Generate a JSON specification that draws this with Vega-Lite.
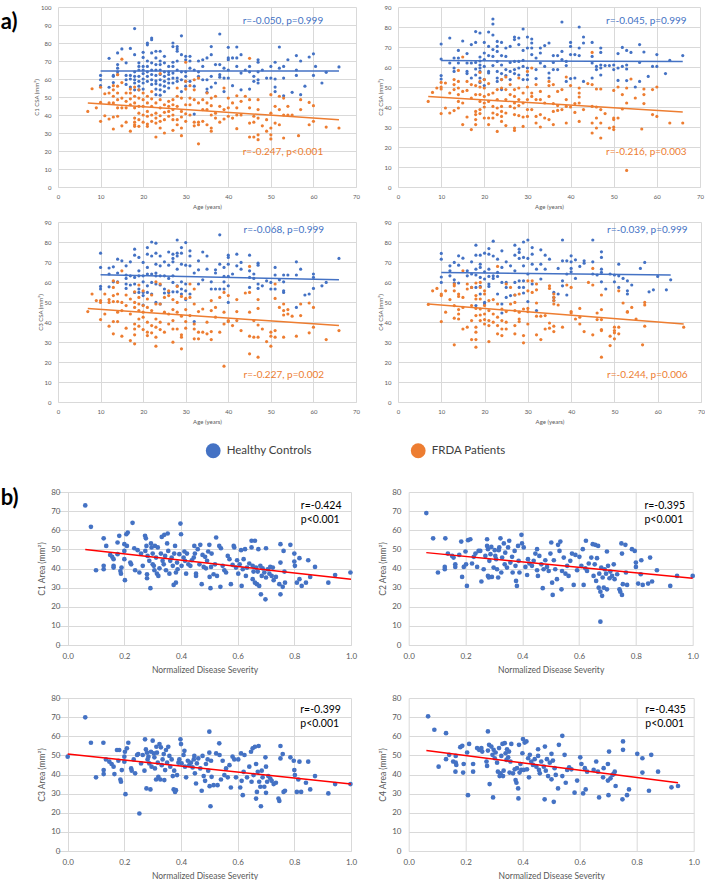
{
"$schema":"https://vega.github.io/schema/vega-lite/v6.json",
"background":"white",
"padding":{"left":0,"top":4,"right":0,"bottom":0},
"datasets":{
"a1h":[{"x":10,"y":62},{"x":10,"y":59.6},{"x":10,"y":56.3},{"x":12,"y":71.5},{"x":12,"y":55.4},{"x":13,"y":62},{"x":13,"y":58},{"x":13,"y":61.5},{"x":14,"y":74.5},{"x":14,"y":68},{"x":14,"y":66},{"x":14,"y":64},{"x":14,"y":62.5},{"x":15,"y":76.7},{"x":16,"y":69},{"x":16,"y":62},{"x":16,"y":59.6},{"x":16,"y":57},{"x":17,"y":77},{"x":17,"y":62},{"x":17,"y":60},{"x":17,"y":55.5},{"x":18,"y":88},{"x":18,"y":73.5},{"x":18,"y":64},{"x":18,"y":61.5},{"x":18,"y":59.6},{"x":18,"y":57.8},{"x":18,"y":54},{"x":19,"y":69},{"x":19,"y":67},{"x":19,"y":65},{"x":19,"y":61.5},{"x":19,"y":58.7},{"x":19,"y":56},{"x":19,"y":54},{"x":20,"y":74.8},{"x":20,"y":72},{"x":20,"y":67},{"x":20,"y":65},{"x":20,"y":63},{"x":20,"y":60},{"x":20,"y":57.8},{"x":20,"y":54.4},{"x":21,"y":80},{"x":21,"y":79},{"x":21,"y":70},{"x":21,"y":67},{"x":21,"y":64},{"x":21,"y":61.5},{"x":21,"y":58.7},{"x":22,"y":82.8},{"x":22,"y":81.8},{"x":22,"y":74.5},{"x":22,"y":69},{"x":22,"y":65},{"x":22,"y":62.5},{"x":22,"y":59.6},{"x":22,"y":57},{"x":23,"y":75.4},{"x":23,"y":71.7},{"x":23,"y":68},{"x":23,"y":65},{"x":23,"y":62},{"x":23,"y":59},{"x":23,"y":57.4},{"x":23,"y":54.4},{"x":23,"y":51.3},{"x":24,"y":75.4},{"x":24,"y":70},{"x":24,"y":68},{"x":24,"y":65},{"x":24,"y":62.5},{"x":24,"y":59.6},{"x":24,"y":56.7},{"x":24,"y":54},{"x":24,"y":51},{"x":25,"y":72.6},{"x":25,"y":69},{"x":25,"y":64},{"x":25,"y":61.5},{"x":25,"y":58.7},{"x":25,"y":56},{"x":25,"y":53},{"x":26,"y":67},{"x":26,"y":64},{"x":26,"y":62.5},{"x":26,"y":60},{"x":26,"y":57.8},{"x":26,"y":55},{"x":27,"y":80},{"x":27,"y":78},{"x":27,"y":69.3},{"x":27,"y":67},{"x":27,"y":63.3},{"x":27,"y":60.5},{"x":27,"y":57.8},{"x":28,"y":78},{"x":28,"y":76.7},{"x":28,"y":75.4},{"x":28,"y":70},{"x":28,"y":65},{"x":28,"y":60.5},{"x":28,"y":58.7},{"x":29,"y":84},{"x":29,"y":73.5},{"x":29,"y":64},{"x":29,"y":59.6},{"x":29,"y":53},{"x":30,"y":72.6},{"x":30,"y":70.7},{"x":30,"y":64},{"x":30,"y":61.5},{"x":30,"y":58.7},{"x":30,"y":56},{"x":31,"y":72.6},{"x":31,"y":70},{"x":31,"y":66},{"x":31,"y":58.7},{"x":32,"y":65},{"x":32,"y":40.5},{"x":32,"y":56},{"x":33,"y":70},{"x":33,"y":64},{"x":33,"y":61.5},{"x":34,"y":70.7},{"x":34,"y":67},{"x":34,"y":59.6},{"x":35,"y":71.7},{"x":35,"y":59.6},{"x":35,"y":54.4},{"x":35,"y":52.6},{"x":36,"y":78},{"x":36,"y":73.5},{"x":36,"y":61.5},{"x":36,"y":55.5},{"x":37,"y":68},{"x":37,"y":57.8},{"x":38,"y":85},{"x":38,"y":68},{"x":38,"y":61},{"x":38,"y":62.4},{"x":39,"y":66},{"x":39,"y":60.5},{"x":39,"y":53},{"x":40,"y":77.6},{"x":40,"y":71.7},{"x":40,"y":70.7},{"x":40,"y":65},{"x":40,"y":60.5},{"x":41,"y":71.7},{"x":41,"y":56.3},{"x":42,"y":77.8},{"x":42,"y":71.7},{"x":42,"y":67},{"x":43,"y":73.5},{"x":43,"y":63.3},{"x":43,"y":54},{"x":44,"y":65},{"x":45,"y":67},{"x":45,"y":64},{"x":45,"y":54.4},{"x":46,"y":61.5},{"x":46,"y":58.7},{"x":47,"y":70.7},{"x":47,"y":69.3},{"x":47,"y":64},{"x":47,"y":59.6},{"x":47,"y":57.8},{"x":48,"y":65},{"x":49,"y":60.5},{"x":50,"y":67},{"x":50,"y":60.5},{"x":51,"y":69.3},{"x":51,"y":55.5},{"x":51,"y":53},{"x":51,"y":60},{"x":52,"y":77.8},{"x":52,"y":66},{"x":53,"y":67},{"x":53,"y":60.5},{"x":53,"y":50.7},{"x":54,"y":70.7},{"x":55,"y":52.6},{"x":56,"y":73},{"x":56,"y":65},{"x":56,"y":62},{"x":57,"y":70},{"x":57,"y":51.3},{"x":58,"y":56},{"x":59,"y":72.2},{"x":60,"y":74},{"x":60,"y":62},{"x":60.5,"y":67},{"x":62,"y":57.8},{"x":63,"y":63.7},{"x":66,"y":66.7}],
"a1f":[{"x":7,"y":42},{"x":8,"y":54.6},{"x":9,"y":44},{"x":10,"y":55.4},{"x":10,"y":47},{"x":10,"y":36.5},{"x":11,"y":51.8},{"x":11,"y":39.6},{"x":12,"y":52.2},{"x":12,"y":46.7},{"x":12,"y":37.8},{"x":13,"y":56.3},{"x":13,"y":54},{"x":13,"y":50.4},{"x":13,"y":46.7},{"x":13,"y":38.9},{"x":13,"y":32.2},{"x":14,"y":62.4},{"x":14,"y":56},{"x":14,"y":52.2},{"x":14,"y":48.5},{"x":14,"y":44},{"x":14,"y":39.3},{"x":15,"y":71},{"x":15,"y":58},{"x":15,"y":49.4},{"x":15,"y":44},{"x":15,"y":34},{"x":16,"y":52.2},{"x":16,"y":47.6},{"x":16,"y":44},{"x":16,"y":36},{"x":17,"y":54.4},{"x":17,"y":52.2},{"x":17,"y":49},{"x":17,"y":45.7},{"x":17,"y":31},{"x":18,"y":55.5},{"x":18,"y":50.4},{"x":18,"y":46.7},{"x":18,"y":44},{"x":18,"y":38.3},{"x":18,"y":36},{"x":18,"y":34.6},{"x":18,"y":33.7},{"x":19,"y":54},{"x":19,"y":49.4},{"x":19,"y":44.8},{"x":19,"y":41},{"x":19,"y":37.4},{"x":19,"y":33.7},{"x":20,"y":52.2},{"x":20,"y":48.5},{"x":20,"y":44.8},{"x":20,"y":40},{"x":20,"y":36},{"x":21,"y":50.4},{"x":21,"y":46.7},{"x":21,"y":42},{"x":21,"y":39.3},{"x":21,"y":35},{"x":21,"y":33.7},{"x":22,"y":53},{"x":22,"y":49},{"x":22,"y":44.8},{"x":22,"y":40},{"x":22,"y":36.5},{"x":23,"y":46.7},{"x":23,"y":41},{"x":23,"y":38.3},{"x":23,"y":35.5},{"x":23,"y":27.8},{"x":24,"y":63},{"x":24,"y":48.5},{"x":24,"y":44},{"x":24,"y":39.6},{"x":24,"y":36.5},{"x":24,"y":32.8},{"x":25,"y":45.7},{"x":25,"y":41.5},{"x":25,"y":37.4},{"x":25,"y":30},{"x":26,"y":47.6},{"x":26,"y":44.8},{"x":26,"y":42},{"x":26,"y":39.3},{"x":27,"y":48.5},{"x":27,"y":45.7},{"x":27,"y":43},{"x":27,"y":40},{"x":27,"y":37.4},{"x":27,"y":31.5},{"x":28,"y":55},{"x":28,"y":50.4},{"x":28,"y":44.8},{"x":28,"y":37.4},{"x":28,"y":34.6},{"x":29,"y":49.4},{"x":29,"y":42},{"x":29,"y":38.9},{"x":29,"y":32.8},{"x":29,"y":28.5},{"x":30,"y":69.3},{"x":30,"y":58.7},{"x":30,"y":54.4},{"x":30,"y":45.7},{"x":30,"y":40.7},{"x":30,"y":36.5},{"x":31,"y":56.3},{"x":31,"y":49.4},{"x":31,"y":45.7},{"x":31,"y":40},{"x":32,"y":59.6},{"x":32,"y":54},{"x":32,"y":48.5},{"x":32,"y":36},{"x":32,"y":34},{"x":33,"y":60.5},{"x":33,"y":46.7},{"x":33,"y":36},{"x":33,"y":34.6},{"x":33,"y":24},{"x":34,"y":48.5},{"x":34,"y":43},{"x":34,"y":36.5},{"x":35,"y":52.2},{"x":35,"y":46.7},{"x":35,"y":43},{"x":35,"y":34.6},{"x":36,"y":49.4},{"x":36,"y":45.2},{"x":36,"y":40},{"x":36,"y":32.8},{"x":36,"y":31},{"x":37,"y":50.4},{"x":37,"y":41},{"x":37,"y":38.3},{"x":38,"y":44.8},{"x":38,"y":36},{"x":39,"y":55},{"x":39,"y":43},{"x":39,"y":37.8},{"x":40,"y":49.4},{"x":40,"y":44},{"x":40,"y":39.3},{"x":41,"y":46.7},{"x":41,"y":38.3},{"x":42,"y":50.7},{"x":42,"y":44},{"x":42,"y":40},{"x":42,"y":32.4},{"x":43,"y":40},{"x":43,"y":47.6},{"x":44,"y":50.4},{"x":45,"y":71.5},{"x":45,"y":48.5},{"x":45,"y":44},{"x":45,"y":35.5},{"x":45,"y":27.8},{"x":46,"y":39.3},{"x":46,"y":36},{"x":46,"y":27.8},{"x":47,"y":48.5},{"x":47,"y":43},{"x":47,"y":38.3},{"x":47,"y":29},{"x":47,"y":26.3},{"x":48,"y":34},{"x":49,"y":37.4},{"x":49,"y":31},{"x":50,"y":51.3},{"x":50,"y":41},{"x":50,"y":32.8},{"x":50,"y":29},{"x":50,"y":26.7},{"x":51,"y":44.8},{"x":51,"y":35.5},{"x":52,"y":43},{"x":52,"y":50.4},{"x":52,"y":34.6},{"x":53,"y":49.4},{"x":53,"y":40},{"x":53,"y":27.2},{"x":54,"y":44.8},{"x":54,"y":40},{"x":55,"y":40},{"x":56.5,"y":28.5},{"x":57,"y":48.5},{"x":57,"y":43},{"x":59,"y":47},{"x":59,"y":34.6},{"x":60,"y":45.2},{"x":60,"y":36.5},{"x":63,"y":33.3},{"x":66,"y":32.8}],
"a2h":[{"x":10,"y":71.5},{"x":10,"y":64},{"x":10,"y":55.7},{"x":10,"y":54},{"x":12,"y":74.5},{"x":12,"y":62},{"x":13,"y":64.5},{"x":13,"y":59.5},{"x":13,"y":57.8},{"x":14,"y":68.3},{"x":14,"y":64.5},{"x":14,"y":62},{"x":15,"y":73},{"x":16,"y":66.7},{"x":16,"y":62},{"x":16,"y":57.8},{"x":16,"y":56.7},{"x":17,"y":71.2},{"x":17,"y":62},{"x":17,"y":54.5},{"x":18,"y":77.7},{"x":18,"y":72.3},{"x":18,"y":62.3},{"x":18,"y":59},{"x":18,"y":56},{"x":19,"y":77},{"x":19,"y":65},{"x":19,"y":63},{"x":19,"y":61},{"x":19,"y":59.5},{"x":19,"y":57.8},{"x":19,"y":54.5},{"x":19,"y":52.3},{"x":20,"y":72.3},{"x":20,"y":67},{"x":20,"y":63.7},{"x":20,"y":60.3},{"x":20,"y":53.7},{"x":20,"y":50.7},{"x":21,"y":77.5},{"x":21,"y":70.3},{"x":21,"y":65.7},{"x":21,"y":57.8},{"x":21,"y":57},{"x":22,"y":84},{"x":22,"y":81.5},{"x":22,"y":76},{"x":22,"y":68.7},{"x":22,"y":65.3},{"x":22,"y":60.7},{"x":23,"y":72.8},{"x":23,"y":70.3},{"x":23,"y":67.8},{"x":23,"y":62.8},{"x":23,"y":57.8},{"x":23,"y":54.5},{"x":23,"y":52.8},{"x":24,"y":72.3},{"x":24,"y":65.7},{"x":24,"y":61},{"x":24,"y":56.7},{"x":24,"y":53.7},{"x":24,"y":48.7},{"x":25,"y":69.5},{"x":25,"y":65.3},{"x":25,"y":58.7},{"x":25,"y":55.7},{"x":26,"y":70.3},{"x":26,"y":62.3},{"x":26,"y":57.8},{"x":26,"y":53.7},{"x":27,"y":75},{"x":27,"y":73.7},{"x":27,"y":62.8},{"x":27,"y":58.7},{"x":27,"y":56.7},{"x":28,"y":74.5},{"x":28,"y":71.2},{"x":28,"y":62.8},{"x":28,"y":59.5},{"x":28,"y":56},{"x":29,"y":79},{"x":29,"y":68.3},{"x":29,"y":63.3},{"x":29,"y":60.3},{"x":29,"y":53.7},{"x":30,"y":75},{"x":30,"y":69.5},{"x":30,"y":59.5},{"x":30,"y":53.7},{"x":30,"y":56},{"x":31,"y":74},{"x":31,"y":72},{"x":31,"y":69.5},{"x":31,"y":66.2},{"x":32,"y":58.7},{"x":32,"y":54.2},{"x":32,"y":64.5},{"x":33,"y":69.5},{"x":33,"y":67},{"x":33,"y":62},{"x":34,"y":70.7},{"x":34,"y":60.3},{"x":35,"y":72},{"x":35,"y":57},{"x":35,"y":54.5},{"x":36,"y":65.7},{"x":36,"y":62.3},{"x":36,"y":58.7},{"x":37,"y":65.7},{"x":37,"y":58.7},{"x":38,"y":82.5},{"x":38,"y":67.8},{"x":38,"y":63.7},{"x":39,"y":62.8},{"x":39,"y":60.7},{"x":39,"y":52.8},{"x":40,"y":72.3},{"x":40,"y":70.3},{"x":40,"y":66.2},{"x":40,"y":54.2},{"x":41,"y":66.2},{"x":41,"y":54.5},{"x":42,"y":80},{"x":42,"y":65.7},{"x":42,"y":69.5},{"x":43,"y":75},{"x":43,"y":72},{"x":43,"y":52.8},{"x":45,"y":72.3},{"x":45,"y":65.3},{"x":45,"y":62},{"x":45,"y":54.5},{"x":46,"y":60.3},{"x":46,"y":58.7},{"x":47,"y":69.5},{"x":47,"y":67.3},{"x":47,"y":61},{"x":47,"y":56},{"x":47,"y":59.5},{"x":48,"y":60.7},{"x":49,"y":60.7},{"x":50,"y":61},{"x":50,"y":58.7},{"x":51,"y":66.7},{"x":51,"y":59.5},{"x":51,"y":53.3},{"x":52,"y":69.8},{"x":52,"y":60.3},{"x":53,"y":68.3},{"x":53,"y":61},{"x":53,"y":59},{"x":53,"y":53.2},{"x":54,"y":67.3},{"x":55,"y":50},{"x":56,"y":71.2},{"x":56,"y":62.3},{"x":56,"y":52.8},{"x":57,"y":67.5},{"x":58,"y":55.3},{"x":59,"y":60.3},{"x":60,"y":60.3},{"x":60,"y":66.2},{"x":62,"y":56.7},{"x":63,"y":63.3},{"x":66,"y":65.7}],
"a2f":[{"x":7,"y":42.8},{"x":8,"y":47.3},{"x":9,"y":49.5},{"x":10,"y":52.3},{"x":10,"y":50},{"x":10,"y":49},{"x":10,"y":36.7},{"x":11,"y":52},{"x":11,"y":39.5},{"x":12,"y":47},{"x":12,"y":37},{"x":13,"y":53.7},{"x":13,"y":51.2},{"x":13,"y":48.7},{"x":13,"y":38.2},{"x":14,"y":58.3},{"x":14,"y":52.8},{"x":14,"y":49.5},{"x":14,"y":46.2},{"x":14,"y":42.8},{"x":14,"y":39.5},{"x":15,"y":65},{"x":15,"y":47.8},{"x":15,"y":42},{"x":15,"y":31.2},{"x":16,"y":52.8},{"x":16,"y":48.3},{"x":16,"y":35},{"x":17,"y":51.2},{"x":17,"y":44.5},{"x":17,"y":28.7},{"x":18,"y":50.7},{"x":18,"y":46.2},{"x":18,"y":37.8},{"x":18,"y":36.2},{"x":18,"y":33.7},{"x":18,"y":31.2},{"x":19,"y":57.3},{"x":19,"y":52.8},{"x":19,"y":50},{"x":19,"y":46.2},{"x":19,"y":42.8},{"x":19,"y":38.7},{"x":19,"y":36.7},{"x":20,"y":53.7},{"x":20,"y":49.5},{"x":20,"y":45.3},{"x":20,"y":42},{"x":20,"y":40},{"x":20,"y":34.5},{"x":21,"y":51.7},{"x":21,"y":46.2},{"x":21,"y":42.8},{"x":21,"y":34.5},{"x":21,"y":31.2},{"x":22,"y":47},{"x":22,"y":40.3},{"x":22,"y":37},{"x":22,"y":34.5},{"x":23,"y":48.7},{"x":23,"y":43.7},{"x":23,"y":39.5},{"x":23,"y":36.2},{"x":23,"y":27.8},{"x":24,"y":53.7},{"x":24,"y":49.5},{"x":24,"y":40.3},{"x":24,"y":37.8},{"x":24,"y":35.3},{"x":24,"y":32.8},{"x":25,"y":55},{"x":25,"y":48.7},{"x":25,"y":43.7},{"x":25,"y":37},{"x":25,"y":30.7},{"x":26,"y":51.2},{"x":26,"y":46.2},{"x":26,"y":40.3},{"x":27,"y":48.7},{"x":27,"y":45.3},{"x":27,"y":42},{"x":27,"y":39.5},{"x":27,"y":36.2},{"x":27,"y":29.5},{"x":27,"y":28.3},{"x":28,"y":54.5},{"x":28,"y":49.5},{"x":28,"y":43.7},{"x":28,"y":40.7},{"x":28,"y":35.7},{"x":29,"y":47},{"x":29,"y":42},{"x":29,"y":35},{"x":29,"y":30.3},{"x":30,"y":57.8},{"x":30,"y":50},{"x":30,"y":43.7},{"x":30,"y":38.7},{"x":30,"y":35.3},{"x":31,"y":59.5},{"x":31,"y":47},{"x":31,"y":45.3},{"x":31,"y":38.7},{"x":32,"y":51.2},{"x":32,"y":43.7},{"x":32,"y":35.3},{"x":32,"y":32},{"x":33,"y":47.8},{"x":33,"y":43.7},{"x":33,"y":36.2},{"x":33,"y":30},{"x":34,"y":42},{"x":34,"y":34.5},{"x":35,"y":52.8},{"x":35,"y":50.7},{"x":35,"y":45.3},{"x":35,"y":33.7},{"x":36,"y":51.2},{"x":36,"y":41.7},{"x":36,"y":37.8},{"x":36,"y":31.2},{"x":37,"y":47.8},{"x":37,"y":40.7},{"x":37,"y":38.3},{"x":38,"y":48.7},{"x":38,"y":38.7},{"x":39,"y":55},{"x":39,"y":43.7},{"x":39,"y":40.3},{"x":39,"y":32},{"x":40,"y":50.7},{"x":40,"y":40},{"x":41,"y":41.7},{"x":41,"y":37.3},{"x":42,"y":49.5},{"x":42,"y":47},{"x":42,"y":45},{"x":42,"y":42},{"x":42,"y":32.8},{"x":43,"y":38.7},{"x":44,"y":51.7},{"x":45,"y":67.3},{"x":45,"y":51.2},{"x":45,"y":40.3},{"x":45,"y":32},{"x":45,"y":27},{"x":46,"y":49},{"x":46,"y":40},{"x":46,"y":34.5},{"x":46,"y":29.5},{"x":47,"y":49},{"x":47,"y":38.7},{"x":47,"y":32},{"x":47,"y":24.5},{"x":48,"y":36.7},{"x":49,"y":29.5},{"x":50,"y":48.3},{"x":50,"y":34.5},{"x":50,"y":33.7},{"x":50,"y":30},{"x":50,"y":28.7},{"x":51,"y":50},{"x":51,"y":34.5},{"x":52,"y":46.2},{"x":52,"y":39},{"x":53,"y":49.5},{"x":53,"y":42},{"x":53,"y":8.3},{"x":54,"y":54},{"x":55,"y":44.5},{"x":56.5,"y":29},{"x":57,"y":49},{"x":57,"y":46.2},{"x":57,"y":41.7},{"x":59,"y":36.2},{"x":59,"y":48.7},{"x":60,"y":50},{"x":60,"y":35.3},{"x":63,"y":32},{"x":66,"y":32}],
"a3h":[{"x":10,"y":74.4},{"x":10,"y":67.3},{"x":10,"y":57.8},{"x":10,"y":56.5},{"x":12,"y":67},{"x":12,"y":64},{"x":12,"y":57.6},{"x":13,"y":67.6},{"x":13,"y":60.1},{"x":14,"y":71.4},{"x":14,"y":64.5},{"x":14,"y":60.1},{"x":15,"y":70.6},{"x":16,"y":68.1},{"x":16,"y":63.5},{"x":16,"y":61.8},{"x":16,"y":59},{"x":16,"y":56.8},{"x":17,"y":70.1},{"x":17,"y":63.1},{"x":17,"y":58.5},{"x":18,"y":76.4},{"x":18,"y":73.4},{"x":18,"y":62.3},{"x":18,"y":59},{"x":18,"y":54.8},{"x":19,"y":72.3},{"x":19,"y":65.6},{"x":19,"y":63.1},{"x":19,"y":56.5},{"x":19,"y":54.8},{"x":20,"y":69.8},{"x":20,"y":63.1},{"x":20,"y":60.1},{"x":20,"y":54.8},{"x":20,"y":53.2},{"x":20,"y":48.5},{"x":21,"y":77.2},{"x":21,"y":73.9},{"x":21,"y":67.3},{"x":21,"y":64},{"x":21,"y":58.1},{"x":21,"y":54.8},{"x":22,"y":80},{"x":22,"y":73},{"x":22,"y":64},{"x":22,"y":59.8},{"x":22,"y":54},{"x":23,"y":79.4},{"x":23,"y":74.4},{"x":23,"y":68.9},{"x":23,"y":64.5},{"x":23,"y":63.1},{"x":23,"y":59},{"x":23,"y":49.8},{"x":24,"y":73},{"x":24,"y":68.1},{"x":24,"y":63.1},{"x":24,"y":58.5},{"x":24,"y":49},{"x":25,"y":70.1},{"x":25,"y":63.1},{"x":25,"y":56.5},{"x":25,"y":54.5},{"x":26,"y":75},{"x":26,"y":68.4},{"x":26,"y":61.8},{"x":26,"y":54.8},{"x":27,"y":73.9},{"x":27,"y":71.8},{"x":27,"y":70.1},{"x":27,"y":63.1},{"x":27,"y":59.8},{"x":27,"y":55.1},{"x":28,"y":81},{"x":28,"y":74.4},{"x":28,"y":73},{"x":28,"y":66.4},{"x":28,"y":58.1},{"x":28,"y":55.1},{"x":29,"y":77.2},{"x":29,"y":74.4},{"x":29,"y":68.9},{"x":29,"y":60.1},{"x":29,"y":56.5},{"x":29,"y":54},{"x":30,"y":79.7},{"x":30,"y":68.4},{"x":30,"y":59},{"x":30,"y":55.6},{"x":30,"y":51.2},{"x":31,"y":75.6},{"x":31,"y":73},{"x":31,"y":68.1},{"x":31,"y":54},{"x":32,"y":64.5},{"x":32,"y":40.2},{"x":33,"y":70.6},{"x":33,"y":66.1},{"x":33,"y":59},{"x":34,"y":75},{"x":34,"y":61.1},{"x":35,"y":73},{"x":35,"y":66.4},{"x":36,"y":60.1},{"x":36,"y":56.5},{"x":37,"y":66.1},{"x":37,"y":64.5},{"x":37,"y":56.5},{"x":38,"y":83.6},{"x":38,"y":68.9},{"x":38,"y":56.5},{"x":39,"y":67.3},{"x":39,"y":62.8},{"x":39,"y":60.1},{"x":39,"y":56.5},{"x":40,"y":73.4},{"x":40,"y":72.3},{"x":40,"y":68.9},{"x":40,"y":62.8},{"x":40,"y":49.8},{"x":40,"y":58.1},{"x":41,"y":64},{"x":42,"y":73.9},{"x":42,"y":68.1},{"x":43,"y":69.8},{"x":43,"y":66.4},{"x":45,"y":73.4},{"x":45,"y":65.6},{"x":45,"y":62.3},{"x":45,"y":57.3},{"x":46,"y":64},{"x":46,"y":61.8},{"x":47,"y":69.4},{"x":47,"y":68.4},{"x":47,"y":59},{"x":47,"y":56.8},{"x":48,"y":58.1},{"x":49,"y":60.6},{"x":50,"y":59.8},{"x":50,"y":56.5},{"x":51,"y":67.3},{"x":51,"y":63.5},{"x":51,"y":56.5},{"x":52,"y":61.1},{"x":53,"y":63.5},{"x":53,"y":55.6},{"x":53,"y":54.8},{"x":53,"y":60.1},{"x":54,"y":63.5},{"x":56,"y":70.1},{"x":56,"y":63.5},{"x":56,"y":47.3},{"x":57,"y":66.4},{"x":58,"y":53.5},{"x":59,"y":54},{"x":60,"y":64},{"x":60,"y":62.3},{"x":60,"y":56.8},{"x":62,"y":58.1},{"x":63,"y":59.8},{"x":66,"y":71.8}],
"a3f":[{"x":7,"y":45.2},{"x":8,"y":54},{"x":9,"y":50.7},{"x":10,"y":50.7},{"x":10,"y":49.8},{"x":10,"y":41.2},{"x":11,"y":54},{"x":11,"y":44},{"x":12,"y":51.2},{"x":12,"y":49.8},{"x":12,"y":37.9},{"x":13,"y":60.6},{"x":13,"y":57.3},{"x":13,"y":53.2},{"x":13,"y":50.2},{"x":13,"y":40.2},{"x":13,"y":34.1},{"x":14,"y":59.8},{"x":14,"y":54},{"x":14,"y":50.2},{"x":14,"y":44.9},{"x":14,"y":40.2},{"x":15,"y":65.6},{"x":15,"y":49.8},{"x":15,"y":45.7},{"x":15,"y":32.9},{"x":16,"y":53.5},{"x":16,"y":48.2},{"x":16,"y":36.9},{"x":17,"y":51.5},{"x":17,"y":44},{"x":17,"y":30.7},{"x":18,"y":55.1},{"x":18,"y":49.8},{"x":18,"y":47.3},{"x":18,"y":39},{"x":18,"y":36.5},{"x":18,"y":33.6},{"x":18,"y":29.1},{"x":19,"y":58.5},{"x":19,"y":52.3},{"x":19,"y":49},{"x":19,"y":45.7},{"x":19,"y":41.5},{"x":19,"y":37.9},{"x":20,"y":55.6},{"x":20,"y":48.2},{"x":20,"y":44.9},{"x":20,"y":42.4},{"x":20,"y":36.2},{"x":21,"y":51.5},{"x":21,"y":47.3},{"x":21,"y":39.9},{"x":21,"y":34.9},{"x":21,"y":33.2},{"x":22,"y":53.5},{"x":22,"y":45.7},{"x":22,"y":38.2},{"x":22,"y":34.6},{"x":23,"y":60.1},{"x":23,"y":49},{"x":23,"y":41.5},{"x":23,"y":37.4},{"x":23,"y":32.4},{"x":23,"y":27.9},{"x":24,"y":59},{"x":24,"y":49},{"x":24,"y":39.9},{"x":24,"y":36.2},{"x":25,"y":52.3},{"x":25,"y":44.9},{"x":25,"y":34.9},{"x":26,"y":55.6},{"x":26,"y":53.2},{"x":26,"y":44},{"x":26,"y":39},{"x":27,"y":51.2},{"x":27,"y":46.2},{"x":27,"y":40.7},{"x":27,"y":36.5},{"x":27,"y":29.9},{"x":28,"y":57.8},{"x":28,"y":49.8},{"x":28,"y":44.9},{"x":28,"y":36.5},{"x":29,"y":52.8},{"x":29,"y":42.9},{"x":29,"y":33.6},{"x":29,"y":26.6},{"x":29,"y":32.4},{"x":30,"y":51.8},{"x":30,"y":46.2},{"x":30,"y":40.2},{"x":30,"y":36.9},{"x":31,"y":59},{"x":31,"y":52.3},{"x":31,"y":43.2},{"x":32,"y":56.5},{"x":32,"y":49},{"x":32,"y":39},{"x":32,"y":36.5},{"x":32,"y":31.6},{"x":33,"y":45.2},{"x":33,"y":34.9},{"x":33,"y":31.6},{"x":34,"y":46.5},{"x":34,"y":34.9},{"x":35,"y":39.9},{"x":35,"y":34.1},{"x":36,"y":50.7},{"x":36,"y":45.7},{"x":36,"y":35.2},{"x":36,"y":31.2},{"x":37,"y":47.3},{"x":37,"y":42.4},{"x":38,"y":52.3},{"x":38,"y":34.9},{"x":39,"y":54.8},{"x":39,"y":44.9},{"x":39,"y":39},{"x":39,"y":17.9},{"x":40,"y":53.2},{"x":40,"y":40.7},{"x":40,"y":40.2},{"x":41,"y":38.2},{"x":42,"y":51.2},{"x":42,"y":45.2},{"x":42,"y":40.7},{"x":43,"y":35.7},{"x":44,"y":54.5},{"x":45,"y":67.8},{"x":45,"y":54.8},{"x":45,"y":44.9},{"x":45,"y":32.9},{"x":45,"y":24.1},{"x":46,"y":40.7},{"x":46,"y":32.4},{"x":47,"y":51.2},{"x":47,"y":46.8},{"x":47,"y":38.5},{"x":47,"y":32.4},{"x":47,"y":22.4},{"x":48,"y":36.5},{"x":49,"y":30.2},{"x":50,"y":34.9},{"x":50,"y":32.9},{"x":50,"y":27.9},{"x":51,"y":59},{"x":51,"y":51.8},{"x":51,"y":35.7},{"x":51,"y":32.4},{"x":52,"y":47.3},{"x":53,"y":49},{"x":53,"y":45.7},{"x":53,"y":43.5},{"x":53,"y":32.4},{"x":54,"y":46.2},{"x":54,"y":44},{"x":55,"y":42.9},{"x":56,"y":32.9},{"x":57,"y":49},{"x":57,"y":43.2},{"x":59,"y":49.5},{"x":59,"y":34.6},{"x":60,"y":47.3},{"x":60,"y":37.4},{"x":63,"y":31.2},{"x":66,"y":35.7}],
"a4h":[{"x":10,"y":74.3},{"x":10,"y":71.4},{"x":10,"y":62.5},{"x":10,"y":59.8},{"x":12,"y":68.1},{"x":12,"y":65.6},{"x":12,"y":63.1},{"x":13,"y":69.8},{"x":13,"y":61.1},{"x":13,"y":59.5},{"x":14,"y":73.1},{"x":14,"y":68.4},{"x":14,"y":59.5},{"x":15,"y":71.9},{"x":16,"y":65.6},{"x":16,"y":63.1},{"x":17,"y":70.1},{"x":17,"y":64},{"x":17,"y":57.3},{"x":18,"y":78.4},{"x":18,"y":73.4},{"x":18,"y":66.4},{"x":18,"y":63.5},{"x":18,"y":57.3},{"x":18,"y":48.2},{"x":19,"y":73.4},{"x":19,"y":68.9},{"x":19,"y":67.3},{"x":19,"y":62.3},{"x":19,"y":57.8},{"x":19,"y":54},{"x":20,"y":74.4},{"x":20,"y":65.1},{"x":20,"y":61.5},{"x":20,"y":49.8},{"x":20,"y":49},{"x":21,"y":76.7},{"x":21,"y":73.9},{"x":21,"y":66.4},{"x":21,"y":62.8},{"x":21,"y":59},{"x":21,"y":57.8},{"x":22,"y":80.4},{"x":22,"y":73},{"x":22,"y":63.1},{"x":22,"y":61.8},{"x":23,"y":71.4},{"x":23,"y":64.8},{"x":23,"y":62.8},{"x":23,"y":54},{"x":24,"y":75.6},{"x":24,"y":67.3},{"x":24,"y":59.8},{"x":24,"y":49},{"x":24,"y":44.5},{"x":25,"y":70.1},{"x":25,"y":59.8},{"x":25,"y":57.3},{"x":25,"y":52.3},{"x":26,"y":68.1},{"x":26,"y":53.2},{"x":27,"y":78.4},{"x":27,"y":73.4},{"x":27,"y":65.6},{"x":27,"y":59.8},{"x":27,"y":53.5},{"x":28,"y":76.4},{"x":28,"y":74.8},{"x":28,"y":71.8},{"x":28,"y":60.6},{"x":28,"y":57.3},{"x":29,"y":80},{"x":29,"y":72.3},{"x":29,"y":68.1},{"x":29,"y":60.6},{"x":29,"y":57.3},{"x":29,"y":54.5},{"x":30,"y":81},{"x":30,"y":71.8},{"x":30,"y":64},{"x":30,"y":50.2},{"x":31,"y":77.2},{"x":31,"y":73.9},{"x":31,"y":68.9},{"x":31,"y":59},{"x":32,"y":66.4},{"x":32,"y":45.7},{"x":33,"y":76.1},{"x":33,"y":68.9},{"x":33,"y":61.5},{"x":34,"y":73.4},{"x":34,"y":66.4},{"x":35,"y":71.4},{"x":36,"y":54.8},{"x":36,"y":52.3},{"x":36,"y":50.7},{"x":37,"y":66.8},{"x":37,"y":54},{"x":38,"y":81},{"x":38,"y":70.6},{"x":38,"y":60.6},{"x":38,"y":58.1},{"x":39,"y":70.6},{"x":39,"y":64},{"x":39,"y":53.5},{"x":40,"y":73.1},{"x":40,"y":70.1},{"x":40,"y":66.8},{"x":40,"y":65.1},{"x":41,"y":71.1},{"x":41,"y":61.8},{"x":42,"y":67.8},{"x":43,"y":70.6},{"x":43,"y":69.4},{"x":45,"y":81},{"x":45,"y":70.1},{"x":45,"y":64},{"x":46,"y":63.5},{"x":47,"y":75.1},{"x":47,"y":72.3},{"x":47,"y":66.4},{"x":47,"y":64.8},{"x":47,"y":60.1},{"x":48,"y":56.5},{"x":49,"y":64},{"x":50,"y":63.5},{"x":50,"y":60.1},{"x":51,"y":68.9},{"x":51,"y":63.1},{"x":51,"y":57.3},{"x":52,"y":61.8},{"x":53,"y":60.6},{"x":53,"y":55.6},{"x":53,"y":54},{"x":54,"y":58.5},{"x":56,"y":66.8},{"x":57,"y":69.8},{"x":58,"y":55.1},{"x":59,"y":56.1},{"x":60,"y":62.8},{"x":62,"y":56.1},{"x":63,"y":61.1}],
"a4f":[{"x":7,"y":48.8},{"x":8,"y":55.6},{"x":9,"y":56.8},{"x":10,"y":54},{"x":10,"y":53.2},{"x":10,"y":40.2},{"x":11,"y":55.6},{"x":11,"y":44.9},{"x":12,"y":51.2},{"x":13,"y":59},{"x":13,"y":58.1},{"x":13,"y":55.6},{"x":13,"y":48.2},{"x":13,"y":41.9},{"x":13,"y":28.6},{"x":14,"y":54},{"x":14,"y":52.8},{"x":14,"y":46.2},{"x":14,"y":44},{"x":14,"y":41.5},{"x":15,"y":65.6},{"x":15,"y":52.3},{"x":15,"y":47.3},{"x":15,"y":36.5},{"x":16,"y":59},{"x":16,"y":56.5},{"x":16,"y":37.4},{"x":17,"y":57.3},{"x":17,"y":48.2},{"x":17,"y":40.7},{"x":17,"y":31.2},{"x":18,"y":59.5},{"x":18,"y":53.2},{"x":18,"y":51.5},{"x":18,"y":46.8},{"x":18,"y":43.2},{"x":18,"y":37.4},{"x":18,"y":34.9},{"x":18,"y":31.2},{"x":18,"y":27.4},{"x":19,"y":59.8},{"x":19,"y":57.3},{"x":19,"y":51.5},{"x":19,"y":46.5},{"x":19,"y":43.5},{"x":19,"y":40.7},{"x":20,"y":55.6},{"x":20,"y":54},{"x":20,"y":48.2},{"x":20,"y":44},{"x":20,"y":41.2},{"x":20,"y":39},{"x":21,"y":50.7},{"x":21,"y":45.7},{"x":21,"y":38.2},{"x":21,"y":30.2},{"x":21,"y":40.7},{"x":22,"y":51.2},{"x":22,"y":44},{"x":22,"y":39.9},{"x":23,"y":67.8},{"x":23,"y":49},{"x":23,"y":42.4},{"x":23,"y":38.2},{"x":23,"y":34.1},{"x":24,"y":46.5},{"x":24,"y":40.7},{"x":24,"y":36.5},{"x":24,"y":33.2},{"x":25,"y":59},{"x":25,"y":45.2},{"x":25,"y":39.9},{"x":25,"y":36.5},{"x":26,"y":57.3},{"x":26,"y":49},{"x":27,"y":53.5},{"x":27,"y":49.8},{"x":27,"y":45.7},{"x":27,"y":38.2},{"x":27,"y":34.1},{"x":28,"y":54},{"x":28,"y":44.9},{"x":28,"y":41.5},{"x":28,"y":40.2},{"x":29,"y":46.5},{"x":29,"y":33.2},{"x":29,"y":29.6},{"x":30,"y":60.6},{"x":30,"y":55.6},{"x":30,"y":46.8},{"x":30,"y":45.2},{"x":30,"y":39},{"x":31,"y":60.6},{"x":31,"y":54.8},{"x":32,"y":59},{"x":32,"y":56.1},{"x":32,"y":49.5},{"x":32,"y":42.9},{"x":32,"y":33.6},{"x":33,"y":42.9},{"x":33,"y":31.2},{"x":34,"y":43.2},{"x":34,"y":36.5},{"x":35,"y":58.1},{"x":35,"y":56.8},{"x":35,"y":39.5},{"x":35,"y":36.9},{"x":36,"y":54},{"x":36,"y":52.3},{"x":36,"y":50.7},{"x":36,"y":49},{"x":36,"y":37.9},{"x":36,"y":35.2},{"x":37,"y":48.5},{"x":38,"y":37.4},{"x":39,"y":58.5},{"x":40,"y":57.3},{"x":40,"y":45.2},{"x":40,"y":44.5},{"x":41,"y":41.5},{"x":42,"y":46.8},{"x":42,"y":42.4},{"x":42,"y":39},{"x":43,"y":35.2},{"x":44,"y":59.8},{"x":45,"y":66.8},{"x":45,"y":58.5},{"x":45,"y":33.6},{"x":46,"y":44.5},{"x":46,"y":41.2},{"x":47,"y":53.5},{"x":47,"y":46.2},{"x":47,"y":41.2},{"x":47,"y":36.2},{"x":47,"y":35.7},{"x":47,"y":22.4},{"x":49,"y":28.2},{"x":49,"y":32.9},{"x":50,"y":37.4},{"x":50,"y":35.7},{"x":50,"y":34.6},{"x":50,"y":31.6},{"x":51,"y":55.6},{"x":51,"y":37.4},{"x":51,"y":34.1},{"x":52,"y":49.5},{"x":53,"y":44.9},{"x":53,"y":45.2},{"x":54,"y":47.3},{"x":55,"y":41.5},{"x":56.5,"y":28.6},{"x":57,"y":49.8},{"x":57,"y":48.5},{"x":57,"y":37.9},{"x":66,"y":37.4}],
"ta1":[{"s":"Healthy Controls","x":10,"y":64.4},{"s":"Healthy Controls","x":66,"y":64.4},{"s":"FRDA Patients","x":7,"y":46.7},{"s":"FRDA Patients","x":66,"y":37.4}],
"ta2":[{"s":"Healthy Controls","x":10,"y":63.2},{"s":"Healthy Controls","x":66,"y":62.7},{"s":"FRDA Patients","x":7,"y":45.3},{"s":"FRDA Patients","x":66,"y":37.5}],
"ta3":[{"s":"Healthy Controls","x":10,"y":63.6},{"s":"Healthy Controls","x":66,"y":61.1},{"s":"FRDA Patients","x":7,"y":46.8},{"s":"FRDA Patients","x":66,"y":38.2}],
"ta4":[{"s":"Healthy Controls","x":10,"y":64.8},{"s":"Healthy Controls","x":63,"y":63.5},{"s":"FRDA Patients","x":7,"y":49},{"s":"FRDA Patients","x":66,"y":39}],
"tb1":[{"x":0.062,"y":49.9},{"x":1.0,"y":34.4}],
"tb2":[{"x":0.062,"y":48.3},{"x":1.0,"y":34.9}],
"tb3":[{"x":0.0,"y":50.7},{"x":1.0,"y":35}],
"tb4":[{"x":0.062,"y":52.5},{"x":0.945,"y":35.7}],
"b1":[{"x":0.062,"y":73},{"x":0.082,"y":61.8},{"x":0.1,"y":39.1},{"x":0.127,"y":55.8},{"x":0.127,"y":41.4},{"x":0.127,"y":39.6},{"x":0.136,"y":51.8},{"x":0.15,"y":47.1},{"x":0.157,"y":46.1},{"x":0.162,"y":44.9},{"x":0.162,"y":41.4},{"x":0.162,"y":40.5},{"x":0.176,"y":53.6},{"x":0.176,"y":47.5},{"x":0.182,"y":57.1},{"x":0.186,"y":38.7},{"x":0.188,"y":37.3},{"x":0.19,"y":40.5},{"x":0.2,"y":52.7},{"x":0.2,"y":49.2},{"x":0.2,"y":44.9},{"x":0.202,"y":33.9},{"x":0.207,"y":57.9},{"x":0.212,"y":58.8},{"x":0.209,"y":51.8},{"x":0.221,"y":43.1},{"x":0.224,"y":42.2},{"x":0.229,"y":63.9},{"x":0.235,"y":50.6},{"x":0.238,"y":39.1},{"x":0.247,"y":49.6},{"x":0.253,"y":37.9},{"x":0.259,"y":47.8},{"x":0.265,"y":41.4},{"x":0.273,"y":57.1},{"x":0.274,"y":49.2},{"x":0.276,"y":55.8},{"x":0.278,"y":51.8},{"x":0.28,"y":37},{"x":0.28,"y":34.9},{"x":0.282,"y":46.6},{"x":0.288,"y":44},{"x":0.292,"y":29.7},{"x":0.294,"y":53.1},{"x":0.296,"y":51},{"x":0.3,"y":47.8},{"x":0.3,"y":42.2},{"x":0.304,"y":41.4},{"x":0.306,"y":39.1},{"x":0.308,"y":51.8},{"x":0.312,"y":45.7},{"x":0.315,"y":37.3},{"x":0.318,"y":51},{"x":0.32,"y":36.1},{"x":0.324,"y":40.1},{"x":0.329,"y":47.8},{"x":0.332,"y":56.5},{"x":0.335,"y":44},{"x":0.339,"y":42.2},{"x":0.341,"y":57.6},{"x":0.344,"y":46.6},{"x":0.347,"y":39.1},{"x":0.351,"y":53.1},{"x":0.353,"y":58.3},{"x":0.355,"y":49.2},{"x":0.359,"y":37.3},{"x":0.362,"y":44},{"x":0.367,"y":45.7},{"x":0.371,"y":41.4},{"x":0.374,"y":31.4},{"x":0.376,"y":47.8},{"x":0.379,"y":51.8},{"x":0.382,"y":32.6},{"x":0.382,"y":37.9},{"x":0.386,"y":43.1},{"x":0.388,"y":39.6},{"x":0.394,"y":47.5},{"x":0.398,"y":63.5},{"x":0.4,"y":57.9},{"x":0.402,"y":41.4},{"x":0.409,"y":45.7},{"x":0.412,"y":48.9},{"x":0.414,"y":44},{"x":0.418,"y":37.3},{"x":0.421,"y":47.8},{"x":0.426,"y":42.2},{"x":0.433,"y":41.4},{"x":0.438,"y":44.3},{"x":0.445,"y":45.7},{"x":0.447,"y":51.8},{"x":0.449,"y":47.8},{"x":0.453,"y":37.3},{"x":0.453,"y":36.1},{"x":0.459,"y":50.1},{"x":0.465,"y":42.2},{"x":0.468,"y":52.4},{"x":0.473,"y":31.8},{"x":0.476,"y":47.1},{"x":0.48,"y":40.8},{"x":0.485,"y":46.1},{"x":0.488,"y":40.1},{"x":0.492,"y":44},{"x":0.496,"y":48.9},{"x":0.5,"y":52.4},{"x":0.501,"y":35.6},{"x":0.504,"y":29.7},{"x":0.506,"y":40.8},{"x":0.508,"y":47.8},{"x":0.515,"y":37},{"x":0.52,"y":42.2},{"x":0.524,"y":56.2},{"x":0.527,"y":36.1},{"x":0.535,"y":51.8},{"x":0.539,"y":30.4},{"x":0.541,"y":50.6},{"x":0.547,"y":41.4},{"x":0.553,"y":39.1},{"x":0.559,"y":37.9},{"x":0.565,"y":46.6},{"x":0.571,"y":44.9},{"x":0.576,"y":31.8},{"x":0.582,"y":41.9},{"x":0.586,"y":51.8},{"x":0.588,"y":51},{"x":0.594,"y":40.5},{"x":0.598,"y":44.3},{"x":0.602,"y":37.3},{"x":0.607,"y":42.2},{"x":0.612,"y":49.6},{"x":0.614,"y":30.9},{"x":0.618,"y":39.6},{"x":0.621,"y":44.9},{"x":0.626,"y":50.1},{"x":0.629,"y":36.1},{"x":0.633,"y":40.5},{"x":0.641,"y":42.6},{"x":0.649,"y":54.5},{"x":0.649,"y":51},{"x":0.653,"y":41.4},{"x":0.653,"y":34.4},{"x":0.656,"y":38.4},{"x":0.661,"y":54.5},{"x":0.661,"y":32.6},{"x":0.665,"y":40.5},{"x":0.668,"y":31.8},{"x":0.671,"y":38.4},{"x":0.673,"y":50.1},{"x":0.676,"y":30.9},{"x":0.68,"y":41.4},{"x":0.682,"y":26.5},{"x":0.685,"y":36.1},{"x":0.688,"y":40.1},{"x":0.694,"y":37.9},{"x":0.698,"y":23.9},{"x":0.7,"y":50.6},{"x":0.7,"y":35.3},{"x":0.706,"y":39.6},{"x":0.712,"y":37.3},{"x":0.715,"y":40.8},{"x":0.72,"y":36.1},{"x":0.724,"y":40.5},{"x":0.727,"y":33.9},{"x":0.735,"y":35.6},{"x":0.747,"y":31.8},{"x":0.751,"y":52.7},{"x":0.751,"y":43.1},{"x":0.751,"y":26.5},{"x":0.759,"y":30.4},{"x":0.762,"y":49.2},{"x":0.765,"y":38.4},{"x":0.767,"y":32.6},{"x":0.786,"y":52.4},{"x":0.8,"y":47.8},{"x":0.8,"y":43.6},{"x":0.802,"y":41.4},{"x":0.809,"y":32.6},{"x":0.818,"y":45.4},{"x":0.818,"y":34.4},{"x":0.826,"y":30.9},{"x":0.841,"y":32.6},{"x":0.849,"y":44.3},{"x":0.856,"y":35.6},{"x":0.873,"y":40.8},{"x":0.92,"y":32.6},{"x":0.944,"y":36.6},{"x":0.998,"y":37.9}],
"b2":[{"x":0.062,"y":69},{"x":0.086,"y":55.8},{"x":0.103,"y":37.9},{"x":0.127,"y":40.8},{"x":0.127,"y":39.6},{"x":0.129,"y":55.8},{"x":0.138,"y":47.8},{"x":0.153,"y":46.6},{"x":0.158,"y":45.7},{"x":0.164,"y":42.2},{"x":0.164,"y":40.8},{"x":0.178,"y":47.1},{"x":0.185,"y":54.1},{"x":0.188,"y":35.6},{"x":0.194,"y":40.8},{"x":0.2,"y":48.9},{"x":0.202,"y":42.2},{"x":0.205,"y":30.9},{"x":0.209,"y":54.8},{"x":0.217,"y":55.3},{"x":0.223,"y":42.6},{"x":0.229,"y":46.1},{"x":0.235,"y":47.8},{"x":0.241,"y":40.8},{"x":0.246,"y":49.2},{"x":0.252,"y":49.2},{"x":0.256,"y":33.2},{"x":0.264,"y":39.6},{"x":0.27,"y":46.6},{"x":0.276,"y":55.3},{"x":0.276,"y":51.8},{"x":0.279,"y":50.1},{"x":0.279,"y":36.1},{"x":0.282,"y":35.3},{"x":0.284,"y":44},{"x":0.288,"y":47.5},{"x":0.291,"y":51.3},{"x":0.293,"y":35.6},{"x":0.299,"y":40.5},{"x":0.303,"y":49.6},{"x":0.305,"y":46.6},{"x":0.308,"y":44.9},{"x":0.311,"y":39.6},{"x":0.315,"y":35.3},{"x":0.317,"y":49.6},{"x":0.319,"y":51},{"x":0.323,"y":55.8},{"x":0.326,"y":37.9},{"x":0.329,"y":45.7},{"x":0.335,"y":53.1},{"x":0.338,"y":42.2},{"x":0.34,"y":48.3},{"x":0.346,"y":40.5},{"x":0.35,"y":51},{"x":0.354,"y":54.5},{"x":0.358,"y":43.1},{"x":0.364,"y":46.1},{"x":0.366,"y":37.9},{"x":0.373,"y":49.2},{"x":0.376,"y":41.4},{"x":0.378,"y":33.5},{"x":0.381,"y":30.9},{"x":0.385,"y":51.8},{"x":0.387,"y":44},{"x":0.39,"y":37.9},{"x":0.397,"y":57.6},{"x":0.399,"y":53.1},{"x":0.405,"y":51},{"x":0.411,"y":40.8},{"x":0.417,"y":36.6},{"x":0.42,"y":44.9},{"x":0.425,"y":42.6},{"x":0.434,"y":41.4},{"x":0.44,"y":44},{"x":0.446,"y":47.8},{"x":0.452,"y":50.1},{"x":0.452,"y":39.1},{"x":0.455,"y":36.1},{"x":0.46,"y":46.6},{"x":0.467,"y":42.2},{"x":0.472,"y":29.7},{"x":0.475,"y":39.6},{"x":0.481,"y":44.3},{"x":0.487,"y":40.8},{"x":0.493,"y":38.7},{"x":0.499,"y":47.8},{"x":0.502,"y":53.6},{"x":0.505,"y":32.6},{"x":0.507,"y":26.2},{"x":0.511,"y":44.3},{"x":0.516,"y":39.6},{"x":0.522,"y":34.4},{"x":0.526,"y":52.4},{"x":0.531,"y":49.2},{"x":0.534,"y":54.1},{"x":0.538,"y":29.1},{"x":0.54,"y":38.7},{"x":0.546,"y":45.7},{"x":0.552,"y":37.3},{"x":0.558,"y":41.4},{"x":0.563,"y":36.1},{"x":0.569,"y":44},{"x":0.575,"y":47.8},{"x":0.581,"y":31.4},{"x":0.587,"y":47.1},{"x":0.593,"y":39.1},{"x":0.601,"y":46.1},{"x":0.608,"y":41.4},{"x":0.613,"y":50.1},{"x":0.616,"y":31.4},{"x":0.622,"y":40.1},{"x":0.624,"y":54.5},{"x":0.628,"y":38.7},{"x":0.634,"y":42.6},{"x":0.643,"y":45.7},{"x":0.648,"y":52.7},{"x":0.651,"y":36.1},{"x":0.655,"y":42.2},{"x":0.657,"y":52.4},{"x":0.66,"y":33.5},{"x":0.663,"y":45.4},{"x":0.667,"y":51.8},{"x":0.669,"y":30},{"x":0.671,"y":37.3},{"x":0.675,"y":12.2},{"x":0.675,"y":27.9},{"x":0.678,"y":40.5},{"x":0.681,"y":25.7},{"x":0.683,"y":35.3},{"x":0.687,"y":30},{"x":0.69,"y":39.6},{"x":0.695,"y":37.3},{"x":0.698,"y":48.9},{"x":0.698,"y":29.1},{"x":0.702,"y":41.4},{"x":0.707,"y":34.9},{"x":0.71,"y":38.4},{"x":0.716,"y":36.1},{"x":0.722,"y":42.2},{"x":0.725,"y":34.4},{"x":0.734,"y":37},{"x":0.742,"y":29.1},{"x":0.745,"y":27.9},{"x":0.749,"y":53.1},{"x":0.751,"y":47.8},{"x":0.751,"y":26.2},{"x":0.754,"y":31.8},{"x":0.763,"y":52.4},{"x":0.765,"y":37.9},{"x":0.769,"y":31.4},{"x":0.786,"y":50.1},{"x":0.796,"y":49.2},{"x":0.8,"y":43.1},{"x":0.8,"y":40.8},{"x":0.808,"y":32.1},{"x":0.817,"y":37},{"x":0.819,"y":44.3},{"x":0.824,"y":31.4},{"x":0.843,"y":32.1},{"x":0.85,"y":45.7},{"x":0.857,"y":33.2},{"x":0.874,"y":39.1},{"x":0.921,"y":30.9},{"x":0.945,"y":36.1},{"x":1.0,"y":36.1}],
"b3":[{"x":0.0,"y":49.3},{"x":0.062,"y":69.9},{"x":0.082,"y":56.6},{"x":0.1,"y":38.5},{"x":0.126,"y":56.6},{"x":0.127,"y":42.3},{"x":0.127,"y":40.2},{"x":0.135,"y":47.9},{"x":0.147,"y":46.7},{"x":0.155,"y":45.5},{"x":0.162,"y":44.1},{"x":0.165,"y":40.2},{"x":0.174,"y":52.8},{"x":0.179,"y":47.2},{"x":0.182,"y":52.8},{"x":0.186,"y":37.4},{"x":0.188,"y":36.2},{"x":0.191,"y":42.3},{"x":0.2,"y":49.3},{"x":0.2,"y":46.7},{"x":0.202,"y":51.9},{"x":0.204,"y":29.7},{"x":0.209,"y":53.7},{"x":0.214,"y":56.6},{"x":0.224,"y":43.2},{"x":0.226,"y":42},{"x":0.233,"y":47.9},{"x":0.238,"y":40.6},{"x":0.245,"y":50.2},{"x":0.249,"y":50.7},{"x":0.253,"y":19.6},{"x":0.259,"y":45.8},{"x":0.265,"y":50.2},{"x":0.271,"y":42},{"x":0.273,"y":58.4},{"x":0.276,"y":53.1},{"x":0.278,"y":32.7},{"x":0.28,"y":51.4},{"x":0.282,"y":47.9},{"x":0.285,"y":49.3},{"x":0.288,"y":45.8},{"x":0.292,"y":32.2},{"x":0.294,"y":51.9},{"x":0.296,"y":44.1},{"x":0.3,"y":57.7},{"x":0.304,"y":51},{"x":0.306,"y":49},{"x":0.308,"y":43.2},{"x":0.312,"y":37.4},{"x":0.313,"y":54.5},{"x":0.315,"y":51.4},{"x":0.318,"y":46.2},{"x":0.32,"y":38.8},{"x":0.324,"y":55.9},{"x":0.327,"y":37.4},{"x":0.329,"y":54.2},{"x":0.332,"y":44.9},{"x":0.335,"y":47.9},{"x":0.339,"y":50.7},{"x":0.341,"y":37.1},{"x":0.344,"y":42.3},{"x":0.347,"y":52.8},{"x":0.351,"y":46.2},{"x":0.355,"y":54.5},{"x":0.359,"y":49.7},{"x":0.362,"y":44.1},{"x":0.367,"y":47.9},{"x":0.371,"y":39.2},{"x":0.374,"y":32.2},{"x":0.376,"y":42},{"x":0.379,"y":30.9},{"x":0.382,"y":31.8},{"x":0.386,"y":39.7},{"x":0.391,"y":46.2},{"x":0.394,"y":47.9},{"x":0.398,"y":58.4},{"x":0.4,"y":55.9},{"x":0.402,"y":45.8},{"x":0.409,"y":50.2},{"x":0.412,"y":52.4},{"x":0.414,"y":44.1},{"x":0.418,"y":38.5},{"x":0.424,"y":47.2},{"x":0.429,"y":44.9},{"x":0.435,"y":46.2},{"x":0.441,"y":43.7},{"x":0.445,"y":47.9},{"x":0.447,"y":49.7},{"x":0.449,"y":40.6},{"x":0.453,"y":35.3},{"x":0.456,"y":45.8},{"x":0.461,"y":48.4},{"x":0.468,"y":43.2},{"x":0.473,"y":31.5},{"x":0.476,"y":49.7},{"x":0.48,"y":39.2},{"x":0.485,"y":36.7},{"x":0.488,"y":45.5},{"x":0.494,"y":47.9},{"x":0.496,"y":42},{"x":0.5,"y":62.4},{"x":0.5,"y":51.4},{"x":0.501,"y":33.9},{"x":0.504,"y":23.4},{"x":0.506,"y":47.2},{"x":0.508,"y":38.8},{"x":0.515,"y":34.4},{"x":0.524,"y":51},{"x":0.529,"y":34.4},{"x":0.535,"y":56.3},{"x":0.536,"y":50.2},{"x":0.541,"y":37.4},{"x":0.547,"y":47.2},{"x":0.553,"y":39.7},{"x":0.559,"y":43.2},{"x":0.565,"y":38.5},{"x":0.571,"y":44.9},{"x":0.576,"y":33.2},{"x":0.582,"y":49.3},{"x":0.588,"y":47.9},{"x":0.594,"y":38.5},{"x":0.602,"y":47.9},{"x":0.609,"y":33.2},{"x":0.612,"y":51},{"x":0.614,"y":36.7},{"x":0.618,"y":29.2},{"x":0.621,"y":41.4},{"x":0.624,"y":50.2},{"x":0.633,"y":38.5},{"x":0.641,"y":44.1},{"x":0.647,"y":51.9},{"x":0.649,"y":36.2},{"x":0.653,"y":53.7},{"x":0.656,"y":39.7},{"x":0.661,"y":54.5},{"x":0.665,"y":27.4},{"x":0.665,"y":45.5},{"x":0.668,"y":30.9},{"x":0.671,"y":41.4},{"x":0.674,"y":54.9},{"x":0.676,"y":36.2},{"x":0.68,"y":33.6},{"x":0.682,"y":23.4},{"x":0.685,"y":42},{"x":0.688,"y":38.5},{"x":0.694,"y":33.6},{"x":0.698,"y":49},{"x":0.7,"y":44.1},{"x":0.7,"y":30.4},{"x":0.704,"y":36.2},{"x":0.708,"y":39.2},{"x":0.715,"y":37.9},{"x":0.72,"y":36.7},{"x":0.727,"y":35},{"x":0.735,"y":35.7},{"x":0.744,"y":27.4},{"x":0.747,"y":26.2},{"x":0.751,"y":54.9},{"x":0.751,"y":48.4},{"x":0.759,"y":50.7},{"x":0.762,"y":30.9},{"x":0.767,"y":31.5},{"x":0.786,"y":49},{"x":0.798,"y":47.2},{"x":0.8,"y":42.3},{"x":0.802,"y":39.7},{"x":0.809,"y":30.9},{"x":0.814,"y":37.4},{"x":0.818,"y":46.7},{"x":0.824,"y":30.9},{"x":0.841,"y":35.7},{"x":0.849,"y":46.7},{"x":0.856,"y":32.2},{"x":0.873,"y":39.2},{"x":0.92,"y":30.1},{"x":0.944,"y":35},{"x":0.998,"y":35}],
"b4":[{"x":0.068,"y":70.4},{"x":0.09,"y":63.4},{"x":0.105,"y":44.1},{"x":0.131,"y":61.6},{"x":0.131,"y":48},{"x":0.142,"y":50.3},{"x":0.156,"y":46.8},{"x":0.164,"y":41.5},{"x":0.165,"y":46.2},{"x":0.167,"y":45},{"x":0.165,"y":49.7},{"x":0.181,"y":54.3},{"x":0.188,"y":55},{"x":0.191,"y":41},{"x":0.193,"y":45.5},{"x":0.205,"y":51.5},{"x":0.208,"y":29.2},{"x":0.212,"y":56},{"x":0.226,"y":45.5},{"x":0.226,"y":41.5},{"x":0.24,"y":53.8},{"x":0.247,"y":52.9},{"x":0.255,"y":53.8},{"x":0.258,"y":52},{"x":0.273,"y":46.8},{"x":0.275,"y":44.5},{"x":0.278,"y":62.5},{"x":0.278,"y":52.5},{"x":0.282,"y":55.5},{"x":0.284,"y":35},{"x":0.29,"y":54.6},{"x":0.294,"y":50.3},{"x":0.296,"y":28},{"x":0.298,"y":52.9},{"x":0.302,"y":48.5},{"x":0.305,"y":51.5},{"x":0.31,"y":46.2},{"x":0.313,"y":41.5},{"x":0.317,"y":53.8},{"x":0.319,"y":39.2},{"x":0.322,"y":40.6},{"x":0.325,"y":49.7},{"x":0.329,"y":56},{"x":0.331,"y":39.2},{"x":0.333,"y":42},{"x":0.337,"y":56.4},{"x":0.34,"y":51.1},{"x":0.343,"y":47.6},{"x":0.345,"y":53.2},{"x":0.349,"y":49},{"x":0.352,"y":52},{"x":0.354,"y":41},{"x":0.357,"y":46.8},{"x":0.36,"y":56},{"x":0.366,"y":40.6},{"x":0.372,"y":42.7},{"x":0.375,"y":37.1},{"x":0.378,"y":35.7},{"x":0.38,"y":43.3},{"x":0.384,"y":32.7},{"x":0.385,"y":27.5},{"x":0.387,"y":55.5},{"x":0.389,"y":41},{"x":0.392,"y":45.5},{"x":0.395,"y":42.4},{"x":0.399,"y":51.1},{"x":0.401,"y":58.5},{"x":0.404,"y":42.4},{"x":0.407,"y":56.7},{"x":0.413,"y":57.3},{"x":0.415,"y":42.7},{"x":0.419,"y":48.5},{"x":0.422,"y":38.5},{"x":0.425,"y":50.3},{"x":0.43,"y":46.8},{"x":0.436,"y":45},{"x":0.442,"y":48},{"x":0.448,"y":44.1},{"x":0.454,"y":53.2},{"x":0.454,"y":49.7},{"x":0.457,"y":42.4},{"x":0.46,"y":40.6},{"x":0.465,"y":46.8},{"x":0.474,"y":44.1},{"x":0.477,"y":27},{"x":0.478,"y":54.6},{"x":0.481,"y":42},{"x":0.485,"y":48},{"x":0.489,"y":39.2},{"x":0.495,"y":46.2},{"x":0.501,"y":50.8},{"x":0.501,"y":37.5},{"x":0.506,"y":47.3},{"x":0.509,"y":25.7},{"x":0.512,"y":43.3},{"x":0.516,"y":39.8},{"x":0.524,"y":32.7},{"x":0.527,"y":55.5},{"x":0.539,"y":60.2},{"x":0.539,"y":39.2},{"x":0.547,"y":50.3},{"x":0.551,"y":35.7},{"x":0.556,"y":42.4},{"x":0.563,"y":43.8},{"x":0.571,"y":42.7},{"x":0.582,"y":30.5},{"x":0.591,"y":36.8},{"x":0.602,"y":49},{"x":0.606,"y":45.5},{"x":0.612,"y":30.1},{"x":0.618,"y":43.3},{"x":0.621,"y":32.2},{"x":0.626,"y":41.5},{"x":0.649,"y":42.4},{"x":0.658,"y":46.8},{"x":0.664,"y":41.5},{"x":0.668,"y":28},{"x":0.682,"y":38.5},{"x":0.684,"y":43.3},{"x":0.699,"y":45.5},{"x":0.699,"y":36.8},{"x":0.701,"y":29.2},{"x":0.703,"y":52},{"x":0.708,"y":38},{"x":0.715,"y":39.8},{"x":0.719,"y":40.3},{"x":0.723,"y":41.5},{"x":0.726,"y":34},{"x":0.75,"y":27},{"x":0.752,"y":57.3},{"x":0.752,"y":52.9},{"x":0.766,"y":29.2},{"x":0.773,"y":32.2},{"x":0.802,"y":50.8},{"x":0.82,"y":48.5},{"x":0.82,"y":41},{"x":0.843,"y":31.5},{"x":0.851,"y":50.3},{"x":0.875,"y":41.5},{"x":0.922,"y":33.3},{"x":0.945,"y":34}]
},
"vconcat":[
{"columns":2,"spacing":{"row":10,"column":17},
 "concat":[
   {"width":298,"height":180,"layer":[
    {"data":{"name":"a1h"},"mark":{"type":"circle","size":10,"opacity":1},"encoding":{"x":{"field":"x","type":"quantitative","scale":{"domain":[0,70],"nice":false},"axis":{"values":[0,10,20,30,40,50,60,70],"tickCount":20,"title":"Age (years)"}},"y":{"field":"y","type":"quantitative","scale":{"domain":[0,100],"nice":false},"axis":{"values":[0,10,20,30,40,50,60,70,80,90,100],"tickCount":20,"title":"C1 CSA (mm²)"}},"color":{"datum":"Healthy Controls","type":"nominal","scale":{"domain":["Healthy Controls","FRDA Patients"],"range":["#4472C4","#ED7D31"]},"legend":{"orient":"none","legendX":147.7,"legendY":436.2,"direction":"horizontal","title":null,"symbolType":"circle","symbolSize":219,"symbolStrokeWidth":0,"symbolOpacity":1,"labelFontSize":11.5,"labelColor":"#404040","labelOffset":6,"columnPadding":98,"padding":0}}}},
    {"data":{"name":"a1f"},"mark":{"type":"circle","size":10,"opacity":1},"encoding":{"x":{"field":"x","type":"quantitative"},"y":{"field":"y","type":"quantitative"},"color":{"datum":"FRDA Patients","type":"nominal"}}},
    {"data":{"name":"ta1"},"mark":{"type":"line","strokeWidth":1.5},"encoding":{"x":{"field":"x","type":"quantitative"},"y":{"field":"y","type":"quantitative"},"color":{"field":"s","type":"nominal","legend":null}}},
    {"data":{"values":[{"t":"r=-0.050, p=0.999"}]},"mark":{"type":"text","align":"right","baseline":"middle","fontSize":10,"color":"#4472C4"},"encoding":{"x":{"datum":62.3,"type":"quantitative"},"y":{"datum":92.4,"type":"quantitative"},"text":{"field":"t"}}},
    {"data":{"values":[{"t":"r=-0.247, p<0.001"}]},"mark":{"type":"text","align":"right","baseline":"middle","fontSize":10,"color":"#ED7D31"},"encoding":{"x":{"datum":62.3,"type":"quantitative"},"y":{"datum":19.4,"type":"quantitative"},"text":{"field":"t"}}},
    {"data":{"values":[{"t":"a)"}]},"mark":{"type":"text","align":"left","baseline":"top","fontSize":22,"fontWeight":"bold","color":"#000000","clip":false},"encoding":{"x":{"datum":-13.46,"type":"quantitative"},"y":{"datum":97.2,"type":"quantitative"},"text":{"field":"t"}}}
   ]},
   {"width":302,"height":180,"layer":[
    {"data":{"name":"a2h"},"mark":{"type":"circle","size":10,"opacity":1},"encoding":{"x":{"field":"x","type":"quantitative","scale":{"domain":[0,70],"nice":false},"axis":{"values":[0,10,20,30,40,50,60,70],"tickCount":20,"title":"Age (years)"}},"y":{"field":"y","type":"quantitative","scale":{"domain":[0,90],"nice":false},"axis":{"values":[0,10,20,30,40,50,60,70,80,90],"tickCount":20,"title":"C2 CSA (mm²)"}},"color":{"datum":"Healthy Controls","type":"nominal"}}},
    {"data":{"name":"a2f"},"mark":{"type":"circle","size":10,"opacity":1},"encoding":{"x":{"field":"x","type":"quantitative"},"y":{"field":"y","type":"quantitative"},"color":{"datum":"FRDA Patients","type":"nominal"}}},
    {"data":{"name":"ta2"},"mark":{"type":"line","strokeWidth":1.5},"encoding":{"x":{"field":"x","type":"quantitative"},"y":{"field":"y","type":"quantitative"},"color":{"field":"s","type":"nominal","legend":null}}},
    {"data":{"values":[{"t":"r=-0.045, p=0.999"}]},"mark":{"type":"text","align":"right","baseline":"middle","fontSize":10,"color":"#4472C4"},"encoding":{"x":{"datum":66.9,"type":"quantitative"},"y":{"datum":83.2,"type":"quantitative"},"text":{"field":"t"}}},
    {"data":{"values":[{"t":"r=-0.216, p=0.003"}]},"mark":{"type":"text","align":"right","baseline":"middle","fontSize":10,"color":"#ED7D31"},"encoding":{"x":{"datum":66.9,"type":"quantitative"},"y":{"datum":17.3,"type":"quantitative"},"text":{"field":"t"}}}
   ]},
   {"width":298,"height":180,"layer":[
    {"data":{"name":"a3h"},"mark":{"type":"circle","size":10,"opacity":1},"encoding":{"x":{"field":"x","type":"quantitative","scale":{"domain":[0,70],"nice":false},"axis":{"values":[0,10,20,30,40,50,60,70],"tickCount":20,"title":"Age (years)"}},"y":{"field":"y","type":"quantitative","scale":{"domain":[0,90],"nice":false},"axis":{"values":[0,10,20,30,40,50,60,70,80,90],"tickCount":20,"title":"C3 CSA (mm²)"}},"color":{"datum":"Healthy Controls","type":"nominal"}}},
    {"data":{"name":"a3f"},"mark":{"type":"circle","size":10,"opacity":1},"encoding":{"x":{"field":"x","type":"quantitative"},"y":{"field":"y","type":"quantitative"},"color":{"datum":"FRDA Patients","type":"nominal"}}},
    {"data":{"name":"ta3"},"mark":{"type":"line","strokeWidth":1.5},"encoding":{"x":{"field":"x","type":"quantitative"},"y":{"field":"y","type":"quantitative"},"color":{"field":"s","type":"nominal","legend":null}}},
    {"data":{"values":[{"t":"r=-0.068, p=0.999"}]},"mark":{"type":"text","align":"right","baseline":"middle","fontSize":10,"color":"#4472C4"},"encoding":{"x":{"datum":62.5,"type":"quantitative"},"y":{"datum":85.9,"type":"quantitative"},"text":{"field":"t"}}},
    {"data":{"values":[{"t":"r=-0.227, p=0.002"}]},"mark":{"type":"text","align":"right","baseline":"middle","fontSize":10,"color":"#ED7D31"},"encoding":{"x":{"datum":62.5,"type":"quantitative"},"y":{"datum":13.6,"type":"quantitative"},"text":{"field":"t"}}}
   ]},
   {"width":303,"height":180,"layer":[
    {"data":{"name":"a4h"},"mark":{"type":"circle","size":10,"opacity":1},"encoding":{"x":{"field":"x","type":"quantitative","scale":{"domain":[0,70],"nice":false},"axis":{"values":[0,10,20,30,40,50,60,70],"tickCount":20,"title":"Age (years)"}},"y":{"field":"y","type":"quantitative","scale":{"domain":[0,90],"nice":false},"axis":{"values":[0,10,20,30,40,50,60,70,80,90],"tickCount":20,"title":"C4 CSA (mm²)"}},"color":{"datum":"Healthy Controls","type":"nominal"}}},
    {"data":{"name":"a4f"},"mark":{"type":"circle","size":10,"opacity":1},"encoding":{"x":{"field":"x","type":"quantitative"},"y":{"field":"y","type":"quantitative"},"color":{"datum":"FRDA Patients","type":"nominal"}}},
    {"data":{"name":"ta4"},"mark":{"type":"line","strokeWidth":1.5},"encoding":{"x":{"field":"x","type":"quantitative"},"y":{"field":"y","type":"quantitative"},"color":{"field":"s","type":"nominal","legend":null}}},
    {"data":{"values":[{"t":"r=-0.039, p=0.999"}]},"mark":{"type":"text","align":"right","baseline":"middle","fontSize":10,"color":"#4472C4"},"encoding":{"x":{"datum":66.9,"type":"quantitative"},"y":{"datum":85.9,"type":"quantitative"},"text":{"field":"t"}}},
    {"data":{"values":[{"t":"r=-0.244, p=0.006"}]},"mark":{"type":"text","align":"right","baseline":"middle","fontSize":10,"color":"#ED7D31"},"encoding":{"x":{"datum":66.9,"type":"quantitative"},"y":{"datum":13.6,"type":"quantitative"},"text":{"field":"t"}}}
   ]}
 ]},
{"columns":2,"spacing":{"row":20,"column":21.7},
 "concat":[
   {"width":293,"height":153,"layer":[
    {"data":{"name":"b1"},"mark":{"type":"circle","size":22,"opacity":1,"color":"#4472C4"},"encoding":{"x":{"field":"x","type":"quantitative","scale":{"domain":[-0.0342,1],"nice":false,"zero":false},"axis":{"values":[0,0.2,0.4,0.6,0.8,1],"tickCount":20,"format":".1f","title":"Normalized Disease Severity","labelFontSize":8,"titleFontSize":8.5,"labelPadding":7,"titlePadding":5}},"y":{"field":"y","type":"quantitative","scale":{"domain":[0,80],"nice":false},"axis":{"values":[0,10,20,30,40,50,60,70,80],"tickCount":20,"offset":-9.7,"title":"C1 Area (mm²)","labelFontSize":8,"titleFontSize":8.5,"labelPadding":7.7,"titlePadding":4}}}},
    {"data":{"name":"tb1"},"mark":{"type":"line","color":"#FF0000","strokeWidth":1.5},"encoding":{"x":{"field":"x","type":"quantitative"},"y":{"field":"y","type":"quantitative"}}},
    {"data":{"values":[{"t":"r=-0.424\np<0.001"}]},"mark":{"type":"text","align":"left","baseline":"top","fontSize":10.5,"lineHeight":14,"lineBreak":"\n","color":"#000000"},"encoding":{"x":{"datum":0.823,"type":"quantitative"},"y":{"datum":75.5,"type":"quantitative"},"text":{"field":"t"}}},
    {"data":{"values":[{"t":"b)"}]},"mark":{"type":"text","align":"left","baseline":"top","fontSize":22,"fontWeight":"bold","color":"#000000","clip":false},"encoding":{"x":{"datum":-0.2365,"type":"quantitative"},"y":{"datum":82,"type":"quantitative"},"text":{"field":"t"}}}
   ]},
   {"width":284,"height":153,"layer":[
    {"data":{"name":"b2"},"mark":{"type":"circle","size":22,"opacity":1,"color":"#4472C4"},"encoding":{"x":{"field":"x","type":"quantitative","scale":{"domain":[0,1],"nice":false},"axis":{"values":[0,0.2,0.4,0.6,0.8,1],"tickCount":20,"format":".1f","title":"Normalized Disease Severity","labelFontSize":8,"titleFontSize":8.5,"labelPadding":7,"titlePadding":5}},"y":{"field":"y","type":"quantitative","scale":{"domain":[0,80],"nice":false},"axis":{"values":[0,10,20,30,40,50,60,70,80],"tickCount":20,"title":"C2 Area (mm²)","labelFontSize":8,"titleFontSize":8.5,"labelPadding":7.7,"titlePadding":4}}}},
    {"data":{"name":"tb2"},"mark":{"type":"line","color":"#FF0000","strokeWidth":1.5},"encoding":{"x":{"field":"x","type":"quantitative"},"y":{"field":"y","type":"quantitative"}}},
    {"data":{"values":[{"t":"r=-0.395\np<0.001"}]},"mark":{"type":"text","align":"left","baseline":"top","fontSize":10.5,"lineHeight":14,"lineBreak":"\n","color":"#000000"},"encoding":{"x":{"datum":0.83,"type":"quantitative"},"y":{"datum":75.5,"type":"quantitative"},"text":{"field":"t"}}}
   ]},
   {"width":293,"height":153,"layer":[
    {"data":{"name":"b3"},"mark":{"type":"circle","size":22,"opacity":1,"color":"#4472C4"},"encoding":{"x":{"field":"x","type":"quantitative","scale":{"domain":[-0.0342,1],"nice":false,"zero":false},"axis":{"values":[0,0.2,0.4,0.6,0.8,1],"tickCount":20,"format":".1f","title":"Normalized Disease Severity","labelFontSize":8,"titleFontSize":8.5,"labelPadding":7,"titlePadding":5}},"y":{"field":"y","type":"quantitative","scale":{"domain":[0,80],"nice":false},"axis":{"values":[0,10,20,30,40,50,60,70,80],"tickCount":20,"offset":-9.7,"title":"C3 Area (mm²)","labelFontSize":8,"titleFontSize":8.5,"labelPadding":7.7,"titlePadding":4}}}},
    {"data":{"name":"tb3"},"mark":{"type":"line","color":"#FF0000","strokeWidth":1.5},"encoding":{"x":{"field":"x","type":"quantitative"},"y":{"field":"y","type":"quantitative"}}},
    {"data":{"values":[{"t":"r=-0.399\np<0.001"}]},"mark":{"type":"text","align":"left","baseline":"top","fontSize":10.5,"lineHeight":14,"lineBreak":"\n","color":"#000000"},"encoding":{"x":{"datum":0.821,"type":"quantitative"},"y":{"datum":76.6,"type":"quantitative"},"text":{"field":"t"}}}
   ]},
   {"width":285,"height":153,"layer":[
    {"data":{"name":"b4"},"mark":{"type":"circle","size":22,"opacity":1,"color":"#4472C4"},"encoding":{"x":{"field":"x","type":"quantitative","scale":{"domain":[0,1],"nice":false},"axis":{"values":[0,0.2,0.4,0.6,0.8,1],"tickCount":20,"format":".1f","title":"Normalized Disease Severity","labelFontSize":8,"titleFontSize":8.5,"labelPadding":7,"titlePadding":5}},"y":{"field":"y","type":"quantitative","scale":{"domain":[0,80],"nice":false},"axis":{"values":[0,10,20,30,40,50,60,70,80],"tickCount":20,"title":"C4 Area (mm²)","labelFontSize":8,"titleFontSize":8.5,"labelPadding":7.7,"titlePadding":4}}}},
    {"data":{"name":"tb4"},"mark":{"type":"line","color":"#FF0000","strokeWidth":1.5},"encoding":{"x":{"field":"x","type":"quantitative"},"y":{"field":"y","type":"quantitative"}}},
    {"data":{"values":[{"t":"r=-0.435\np<0.001"}]},"mark":{"type":"text","align":"left","baseline":"top","fontSize":10.5,"lineHeight":14,"lineBreak":"\n","color":"#000000"},"encoding":{"x":{"datum":0.83,"type":"quantitative"},"y":{"datum":76.6,"type":"quantitative"},"text":{"field":"t"}}}
   ]}
 ]}
],
"spacing":63,
"config":{
 "font":"Lato",
 "view":{"stroke":null},
 "axis":{"grid":true,"gridColor":"#D9D9D9","gridWidth":1,"ticks":false,"domain":false,"labelColor":"#595959","titleColor":"#595959","titleFontWeight":"normal","labelFontSize":6,"titleFontSize":6,"labelPadding":7,"titlePadding":1,"labelOverlap":false,"labelFlush":false,"labelFont":"Lato","titleFont":"Lato"},
 "axisX":{"domain":true,"domainColor":"#D9D9D9","labelPadding":6,"titlePadding":4},
 "legend":{"labelFont":"Lato"}
}
}
